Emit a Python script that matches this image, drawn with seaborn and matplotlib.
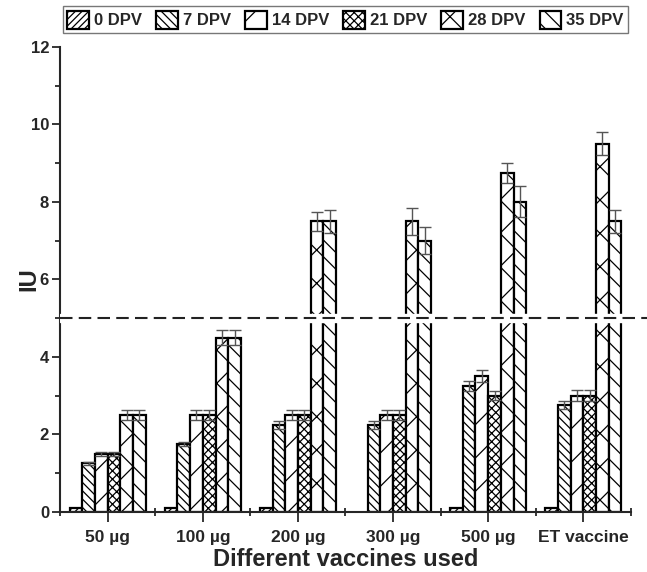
import numpy as np
import pandas as pd
import matplotlib
matplotlib.use("Agg")
import matplotlib.pyplot as plt
import seaborn as sns
from matplotlib.ticker import MultipleLocator, FixedLocator

categories = ["50 µg", "100 µg", "200 µg", "300 µg", "500 µg", "ET vaccine"]
series = ["0 DPV", "7 DPV", "14 DPV", "21 DPV", "28 DPV", "35 DPV"]
dpv0 = [0.1, 0.1, 0.1, 0.0, 0.1, 0.1]
dpv7 = [1.25, 1.75, 2.25, 2.25, 3.25, 2.75]
dpv14 = [1.5, 2.5, 2.5, 2.5, 3.5, 3.0]
dpv21 = [1.5, 2.5, 2.5, 2.5, 3.0, 3.0]
dpv28 = [2.5, 4.5, 7.5, 7.5, 8.75, 9.5]
dpv35 = [2.5, 4.5, 7.5, 7.0, 8.0, 7.5]
err0 = [0, 0, 0, 0, 0, 0]
err7 = [0.05, 0.05, 0.1, 0.1, 0.12, 0.1]
err14 = [0.05, 0.12, 0.12, 0.12, 0.15, 0.15]
err21 = [0.05, 0.12, 0.12, 0.12, 0.12, 0.15]
err28 = [0.12, 0.2, 0.25, 0.35, 0.25, 0.3]
err35 = [0.12, 0.2, 0.3, 0.35, 0.4, 0.3]
threshold = 5

values = [dpv0, dpv7, dpv14, dpv21, dpv28, dpv35]
errors = [err0, err7, err14, err21, err28, err35]
hatches = ["/////", "\\\\\\\\", "/", "xxxx", "x", "\\\\"]

rows = []
for s, vals in zip(series, values):
    for c, v in zip(categories, vals):
        rows.append({"Vaccine": c, "DPV": s, "IU": v})
df = pd.DataFrame(rows)

sns.set_style("ticks")
plt.rcParams["font.family"] = ["Liberation Sans", "DejaVu Sans"]
plt.rcParams["font.weight"] = "bold"
plt.rcParams["hatch.linewidth"] = 0.9

fig = plt.figure(figsize=(6.47, 5.72), dpi=100)
ax = fig.add_axes([0.093, 0.105, 0.882, 0.813])

sns.barplot(data=df, x="Vaccine", y="IU", hue="DPV", order=categories,
            hue_order=series, width=0.8, color="white", saturation=1,
            edgecolor="black", linewidth=1.6, errorbar=None, ax=ax,
            legend=True)

for cont, h, errs in zip(ax.containers, hatches, errors):
    for patch, e in zip(cont.patches, errs):
        patch.set_facecolor("white")
        patch.set_hatch(h)
        patch.set_edgecolor("black")
        if patch.get_height() == 0:
            patch.set_visible(False)
        if e > 0:
            xc = patch.get_x() + patch.get_width() / 2
            ax.errorbar(xc, patch.get_height(), yerr=e, fmt="none",
                        ecolor="#555555", elinewidth=1.0, capsize=4,
                        capthick=1.0, zorder=5)

# axis break band and threshold line
ax.axhspan(threshold - 0.11, threshold + 0.11, color="white", zorder=4)
ax.plot([-0.5, 5.75], [threshold, threshold], ls=(0, (6, 3)), color="#222222",
        lw=1.5, zorder=6, clip_on=False)

ax.set_xlim(-0.5, 5.5)
ax.set_ylim(0, 12)
ax.yaxis.set_major_locator(MultipleLocator(2))
ax.yaxis.set_minor_locator(MultipleLocator(1))
ax.xaxis.set_minor_locator(FixedLocator(np.arange(-0.5, 6.0, 1.0)))
ax.tick_params(axis="y", which="major", direction="out", length=6, width=1.3,
               labelsize=12, pad=2)
ax.tick_params(axis="y", which="minor", direction="out", length=3.5, width=1.3)
ax.tick_params(axis="x", which="major", direction="out", length=7, width=1.3,
               labelsize=12.5, pad=6)
ax.tick_params(axis="x", which="minor", direction="inout", length=6, width=1.3)
for lab in ax.get_xticklabels() + ax.get_yticklabels():
    lab.set_fontweight("bold")
for sp in ["top", "right"]:
    ax.spines[sp].set_visible(False)
for sp in ["left", "bottom"]:
    ax.spines[sp].set_linewidth(1.5)

ax.set_xlabel("Different vaccines used", fontsize=17, fontweight="bold", labelpad=2)
ax.set_ylabel("IU", fontsize=17, fontweight="bold")
ax.yaxis.set_label_coords(-0.035, 0.5)

handles, labels = ax.get_legend_handles_labels()
for hd, h in zip(handles, hatches):
    hd.set_hatch(h)
    hd.set_facecolor("white")
    hd.set_edgecolor("black")
ax.legend(handles, labels, ncol=6, loc="upper center",
          bbox_to_anchor=(0.5, 1.105), frameon=True, fancybox=False,
          edgecolor="#555555", prop={"weight": "bold", "size": 12},
          handlelength=1.3, handleheight=1.3, handletextpad=0.3,
          columnspacing=0.85, borderpad=0.25)

fig.savefig("out.png", dpi=100)
